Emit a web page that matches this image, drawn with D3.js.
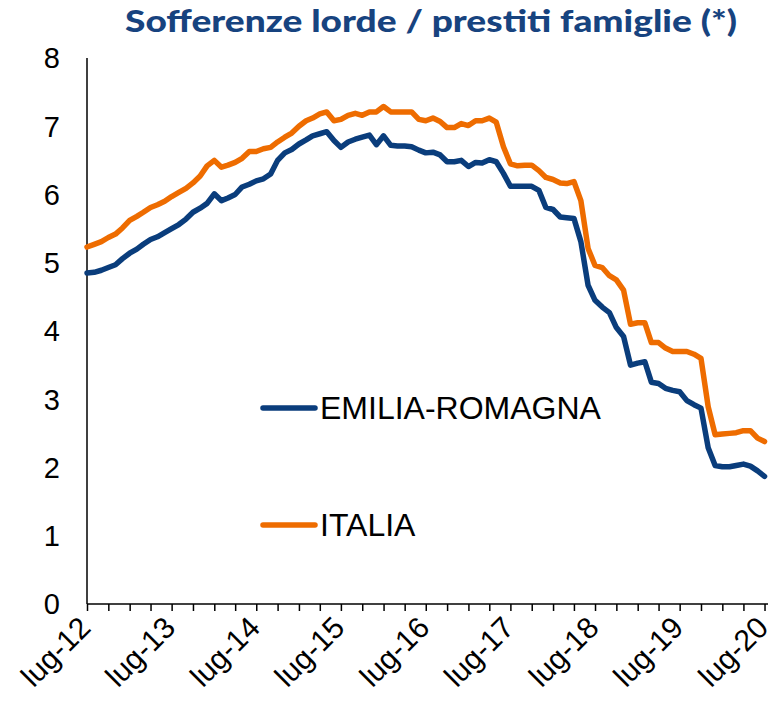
<!DOCTYPE html>
<html>
<head>
<meta charset="utf-8">
<script src="https://cdn.jsdelivr.net/npm/d3@7"></script>
<style>
  body { margin: 0; background: #fff; }
  text { font-family: "Liberation Sans", Arial, sans-serif; }
</style>
</head>
<body>
<div id="chart"></div>
<script>
// monthly values, lug-12 .. lug-20
var italia = [
  5.23, 5.27, 5.31, 5.37, 5.42, 5.51, 5.62, 5.68, 5.74, 5.81, 5.85, 5.90,
  5.97, 6.03, 6.09, 6.17, 6.27, 6.42, 6.50, 6.40, 6.43, 6.47, 6.53, 6.63,
  6.63, 6.67, 6.69, 6.77, 6.84, 6.90, 7.00, 7.08, 7.12, 7.18, 7.21, 7.08,
  7.10, 7.16, 7.19, 7.16, 7.21, 7.21, 7.29, 7.21, 7.21, 7.21, 7.21, 7.10,
  7.08, 7.12, 7.07, 6.98, 6.98, 7.04, 7.01, 7.08, 7.08, 7.12, 7.06, 6.70,
  6.45, 6.42, 6.43, 6.43, 6.35, 6.25, 6.22, 6.17, 6.16, 6.19, 5.91, 5.21,
  4.96, 4.93, 4.81, 4.75, 4.60, 4.10, 4.12, 4.12, 3.83, 3.83, 3.75, 3.70,
  3.70, 3.70, 3.66, 3.60, 2.89, 2.48, 2.49, 2.50, 2.51, 2.54, 2.54, 2.43,
  2.38
];
var emilia = [
  4.85, 4.86, 4.89, 4.93, 4.97, 5.06, 5.14, 5.20, 5.27, 5.34, 5.38, 5.44,
  5.50, 5.56, 5.64, 5.74, 5.80, 5.87, 6.01, 5.91, 5.95, 6.00, 6.11, 6.15,
  6.20, 6.23, 6.30, 6.50, 6.61, 6.66, 6.74, 6.80, 6.86, 6.89, 6.92, 6.79,
  6.69, 6.77, 6.81, 6.84, 6.87, 6.73, 6.86, 6.72, 6.71, 6.71, 6.70, 6.65,
  6.61, 6.62, 6.58, 6.48, 6.48, 6.50, 6.41, 6.47, 6.46, 6.51, 6.48, 6.31,
  6.12, 6.12, 6.12, 6.12, 6.06, 5.81, 5.78, 5.67, 5.66, 5.65, 5.31, 4.67,
  4.45, 4.35, 4.27, 4.05, 3.92, 3.50, 3.53, 3.55, 3.25, 3.23, 3.16, 3.13,
  3.11, 2.98, 2.92, 2.87, 2.29, 2.03, 2.01, 2.01, 2.03, 2.05, 2.02, 1.95,
  1.87
];
var yTicks = [0, 1, 2, 3, 4, 5, 6, 7, 8];
var seriesNames = ["EMILIA-ROMAGNA", "ITALIA"];
var colors = ["#0a3d7c", "#ee6c00"];

var width = 777, height = 703;
var months = d3.timeMonth.range(new Date(2012, 6, 1), new Date(2020, 7, 1));

var svg = d3.select("#chart").append("svg")
    .attr("width", width)
    .attr("height", height);

var x = d3.scaleTime()
    .domain([new Date(2012, 6, 1), new Date(2020, 6, 16)])
    .range([87, 768]);

var y = d3.scaleLinear()
    .domain([0, 8])
    .range([604, 58]);

// title
svg.append("text")
    .attr("x", 431)
    .attr("y", 32)
    .attr("text-anchor", "middle")
    .attr("textLength", 612)
    .attr("lengthAdjust", "spacingAndGlyphs")
    .style("font-family", "Lato, 'DejaVu Sans', sans-serif")
    .style("font-weight", "900")
    .style("font-size", "31px")
    .style("fill", "#17437f")
    .text("Sofferenze lorde / prestiti famiglie (*)");

// y labels (no tick marks)
svg.selectAll(".ylab")
    .data(yTicks)
    .enter().append("text")
    .attr("class", "ylab")
    .attr("x", 60)
    .attr("y", function (d) { return y(d); })
    .attr("dy", "0.36em")
    .attr("text-anchor", "end")
    .style("font-size", "29px")
    .text(function (d) { return d; });

svg.append("line")
    .attr("x1", 87).attr("x2", 87)
    .attr("y1", y(8)).attr("y2", y(0))
    .attr("stroke", "#000").attr("stroke-width", 1.5);

// x axis: quarterly ticks, yearly labels
var xAxis = d3.axisBottom(x)
    .ticks(d3.timeMonth.every(3))
    .tickSize(7)
    .tickFormat("");

var gx = svg.append("g")
    .attr("transform", "translate(0," + y(0) + ")")
    .call(xAxis);
gx.select(".domain").attr("stroke", "#000").attr("stroke-width", 1.5)
    .attr("d", "M87,0H768");
gx.selectAll(".tick line").attr("stroke", "#000").attr("stroke-width", 1.5);

var yearTicks = months.filter(function (d) { return d.getMonth() === 6; });
svg.selectAll(".xlab")
    .data(yearTicks)
    .enter().append("text")
    .attr("class", "xlab")
    .attr("text-anchor", "end")
    .attr("dominant-baseline", "central")
    .attr("transform", function (d) {
        return "translate(" + (x(d) - 2) + ",622) rotate(-45)";
    })
    .style("font-size", "30px")
    .text(function (d) { return "lug-" + d3.timeFormat("%y")(d); });

// lines
var line = d3.line()
    .x(function (d, i) { return x(months[i]); })
    .y(function (d) { return y(d); });

[italia, emilia].forEach(function (s, k) {
    svg.append("path")
        .datum(s)
        .attr("d", line)
        .attr("fill", "none")
        .attr("stroke", k === 0 ? colors[1] : colors[0])
        .attr("stroke-width", 5.5)
        .attr("stroke-linejoin", "round")
        .attr("stroke-linecap", "round");
});

// legend
var legendY = [408, 525];
seriesNames.forEach(function (name, k) {
    svg.append("line")
        .attr("x1", 263).attr("x2", 315)
        .attr("y1", legendY[k]).attr("y2", legendY[k])
        .attr("stroke", colors[k])
        .attr("stroke-width", 5.5)
        .attr("stroke-linecap", "round");
    svg.append("text")
        .attr("x", 320)
        .attr("y", legendY[k] + 11)
        .style("font-size", "32px")
        .text(name);
});
</script>
</body>
</html>
